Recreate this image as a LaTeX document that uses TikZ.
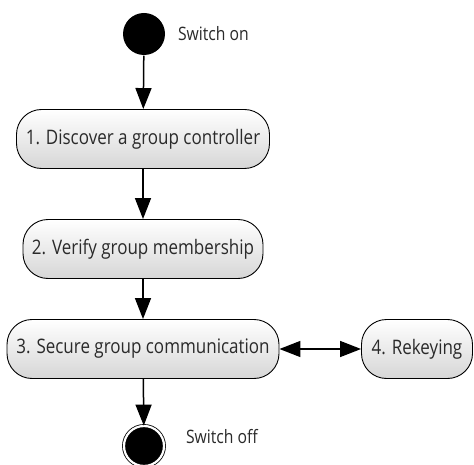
\documentclass[tikz,border=0pt]{standalone}
\usepackage{fontspec}
\setmainfont[FakeStretch=0.85]{Open Sans}
\usetikzlibrary{arrows.meta}
\definecolor{txtgray}{HTML}{2A2A2A}
\tikzset{
  activity/.style={draw, rounded corners=25pt, line width=0.9pt,
    top color=white, bottom color=black!16, minimum height=59pt,
    text=txtgray, font=\fontsize{20}{22}\selectfont},
  note/.style={text=txtgray, font=\fontsize{18.5}{20}\selectfont, anchor=west}
}
\begin{document}
\begin{tikzpicture}[x=1pt,y=-1pt,>={Triangle[length=21pt,width=16pt]},
                    line width=1.5pt]
\useasboundingbox (0,0) rectangle (474,465);
\node[circle, fill=black, minimum size=42pt, inner sep=0pt] (start) at (144,34) {};
\node[note] (on) at (174,34) {Switch on};
\node[activity, minimum width=253pt] (discover) at (143,139) {1. Discover a group controller};
\node[activity, minimum width=240pt] (verify) at (143,249) {2. Verify group membership};
\node[activity, minimum width=272pt] (secure) at (143,349) {3. Secure group communication};
\node[activity, minimum width=111pt] (rekey) at (417,349) {4. Rekeying};
\node[circle, draw, fill=black, double, double distance=2.2pt, line width=0.8pt,
      minimum size=40pt, inner sep=0pt] (stop) at (144,446) {};
\node[note] (off) at (182,437) {Switch off};

\draw[->] (start) to (discover);
\draw[->] (discover) to (verify);
\draw[->] (verify) to (secure);
\draw[<->] (secure) to (rekey);
\draw[->] (secure) to (stop);

\end{tikzpicture}
\end{document}
